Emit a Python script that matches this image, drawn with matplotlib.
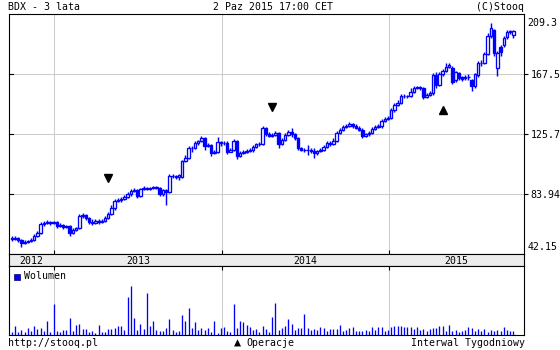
import matplotlib
matplotlib.use('Agg')
import matplotlib.pyplot as plt
import matplotlib.dates as mdates
from matplotlib.patches import Rectangle
import numpy as np
import pandas as pd

plt.rcParams['font.family'] = ['DejaVu Sans Mono', 'DejaVu Sans']
plt.rcParams['font.size'] = 7.1

# ---------------- data ----------------
start_week = '2012-10-01'   # weekly candles (Interwal Tygodniowy)

open_ = [53.3, 52.6, 53.3, 51.9, 49.8, 50.5, 51.2, 51.9, 54.7, 56.8,
         63.0, 63.7, 64.4, 63.7, 64.4, 61.7, 62.3, 61.0, 61.7, 56.8,
         58.9, 60.3, 68.6, 69.3, 67.2, 64.4, 63.7, 65.1, 64.4, 65.1,
         67.2, 70.0, 74.2, 79.1, 79.8, 80.5, 81.9, 83.9, 86.0, 86.7,
         82.6, 87.4, 88.1, 87.4, 88.1, 88.8, 88.1, 83.9, 86.7, 85.3,
         96.5, 96.5, 95.8, 95.8, 106.9, 109.0, 116.0, 116.0, 119.5, 120.9,
         123.0, 117.4, 118.1, 112.5, 113.2, 120.2, 119.5, 119.5, 113.2, 114.6,
         120.9, 110.4, 112.5, 113.2, 113.9, 114.6, 116.7, 118.8, 118.8, 129.9,
         125.7, 124.3, 125.0, 126.4, 118.8, 121.6, 125.0, 127.1, 125.7, 123.0,
         116.0, 114.6, 114.6, 114.6, 113.9, 112.5, 113.9, 114.6, 116.7, 119.5,
         118.8, 120.9, 126.4, 128.5, 130.6, 131.3, 132.7, 131.3, 129.9, 128.5,
         124.3, 125.7, 126.4, 129.2, 130.6, 131.3, 134.8, 136.2, 136.9, 142.5,
         145.9, 147.3, 152.2, 152.2, 152.2, 155.0, 157.8, 158.5, 157.8, 151.5,
         152.9, 154.3, 166.8, 159.9, 167.5, 169.6, 172.4, 171.7, 163.3, 168.2,
         165.4, 164.7, 165.4, 163.3, 159.2, 166.8, 175.2, 175.2, 181.5, 194.0,
         198.2, 171.7, 186.3, 187.7, 193.3, 196.8, 194.7]

high = [54.7, 54.7, 54.0, 52.6, 51.9, 51.9, 53.3, 56.1, 58.2, 64.4,
        65.1, 65.8, 65.1, 65.1, 65.1, 63.7, 63.0, 62.3, 62.3, 60.3,
        61.0, 70.0, 70.7, 70.0, 67.9, 66.5, 66.5, 66.5, 66.5, 68.6,
        71.4, 76.3, 80.5, 81.2, 81.9, 83.2, 85.3, 87.4, 88.1, 87.4,
        88.1, 89.5, 88.8, 88.8, 89.5, 89.5, 88.8, 87.4, 87.4, 97.9,
        97.9, 97.2, 97.9, 107.6, 111.1, 117.4, 117.4, 120.9, 121.6, 124.3,
        123.6, 119.5, 118.8, 114.6, 123.6, 120.9, 120.9, 120.9, 116.0, 122.3,
        121.6, 113.9, 114.6, 115.3, 116.0, 118.1, 119.5, 120.2, 131.3, 130.6,
        127.1, 126.4, 127.8, 127.1, 123.0, 126.4, 128.5, 129.9, 126.4, 123.6,
        116.7, 116.0, 118.1, 116.0, 116.0, 114.6, 116.0, 118.1, 120.9, 120.9,
        123.0, 127.8, 129.9, 132.0, 132.7, 134.1, 133.4, 132.7, 131.3, 129.9,
        126.4, 127.8, 130.6, 132.0, 132.7, 136.2, 137.6, 138.3, 143.8, 147.3,
        149.4, 153.6, 153.6, 152.9, 157.8, 159.2, 159.2, 159.2, 158.5, 154.3,
        155.7, 168.2, 168.9, 168.9, 171.0, 175.2, 175.2, 173.1, 169.6, 168.9,
        166.1, 166.8, 167.5, 164.0, 168.2, 176.6, 177.3, 182.8, 196.1, 203.0,
        198.9, 183.5, 187.7, 194.0, 198.2, 198.2, 198.2]

low = [51.2, 51.9, 50.5, 47.0, 49.1, 49.8, 50.5, 51.2, 54.0, 56.1,
       61.7, 63.0, 62.3, 63.0, 60.3, 61.0, 59.6, 60.3, 54.7, 56.1,
       58.2, 59.6, 67.2, 65.8, 63.0, 62.3, 63.0, 63.0, 63.7, 64.4,
       66.5, 69.3, 72.8, 78.4, 78.4, 79.8, 81.2, 82.6, 85.3, 81.2,
       81.9, 86.7, 86.7, 86.7, 87.4, 87.4, 82.6, 82.6, 76.3, 84.6,
       95.1, 94.4, 93.7, 95.1, 106.2, 108.3, 113.2, 115.3, 118.1, 120.2,
       114.6, 116.7, 110.4, 111.8, 112.5, 117.4, 118.1, 111.8, 113.2, 113.9,
       108.3, 109.7, 111.8, 112.5, 113.2, 113.2, 116.0, 117.4, 118.1, 124.3,
       123.6, 123.6, 124.3, 116.0, 118.1, 120.9, 124.3, 123.6, 121.6, 114.6,
       113.9, 113.2, 111.1, 112.5, 109.0, 111.1, 113.2, 113.9, 116.0, 117.4,
       118.1, 120.2, 125.7, 127.8, 129.9, 130.6, 129.9, 129.2, 127.8, 122.9,
       123.6, 124.3, 125.7, 128.5, 129.9, 129.9, 134.1, 135.5, 136.2, 141.1,
       145.2, 146.6, 150.8, 150.8, 151.5, 154.3, 157.1, 156.4, 150.1, 150.8,
       152.2, 152.9, 157.8, 159.2, 166.1, 168.9, 171.7, 160.5, 161.9, 163.3,
       162.6, 163.3, 163.3, 155.7, 157.8, 165.4, 173.1, 174.5, 180.8, 192.6,
       180.1, 166.1, 180.1, 186.3, 191.9, 195.4, 192.6]

close = [52.6, 53.3, 51.9, 49.8, 50.5, 51.2, 51.9, 54.7, 56.8, 63.0,
         63.7, 64.4, 63.7, 64.4, 61.7, 62.3, 61.0, 61.7, 56.8, 58.9,
         60.3, 68.6, 69.3, 67.2, 64.4, 63.7, 65.1, 64.4, 65.1, 67.2,
         70.0, 74.2, 79.1, 79.8, 80.5, 81.9, 83.9, 86.0, 86.7, 82.6,
         87.4, 88.1, 87.4, 88.1, 88.8, 88.1, 83.9, 86.7, 85.3, 96.5,
         96.5, 95.8, 97.2, 106.9, 109.0, 116.0, 116.0, 119.5, 120.9, 123.0,
         117.4, 118.1, 112.5, 113.2, 120.2, 119.5, 119.5, 113.2, 114.6, 120.9,
         110.4, 112.5, 113.2, 113.9, 114.6, 116.7, 118.8, 118.8, 129.9, 125.7,
         124.3, 125.0, 126.4, 118.8, 121.6, 125.0, 127.1, 125.7, 123.0, 116.0,
         114.6, 114.6, 114.6, 113.9, 112.5, 113.9, 114.6, 116.7, 119.5, 118.8,
         120.9, 126.4, 128.5, 130.6, 131.3, 132.7, 131.3, 129.9, 128.5, 124.3,
         125.7, 126.4, 129.2, 130.6, 131.3, 134.8, 136.2, 136.9, 142.5, 145.9,
         147.3, 152.2, 152.2, 152.2, 155.0, 157.8, 158.5, 157.8, 151.5, 152.9,
         154.3, 166.8, 159.9, 167.5, 169.6, 172.4, 173.8, 161.9, 168.9, 164.7,
         164.0, 165.4, 165.4, 159.2, 167.5, 175.2, 175.2, 181.5, 194.0, 199.6,
         182.2, 182.2, 182.8, 192.6, 196.8, 197.5, 197.5]

volume = [10, 26, 9, 15, 9, 21, 12, 27, 19, 21,
          12, 42, 9, 93, 12, 10, 15, 15, 51, 12,
          30, 33, 17, 17, 9, 12, 6, 30, 9, 10,
          17, 17, 21, 26, 26, 14, 114, 147, 51, 15,
          33, 19, 126, 27, 42, 15, 12, 12, 21, 48,
          15, 9, 12, 60, 42, 81, 21, 39, 15, 21,
          15, 21, 9, 42, 6, 21, 24, 12, 8, 93,
          21, 42, 40, 30, 25, 15, 19, 9, 27, 17,
          10, 54, 96, 15, 21, 27, 48, 34, 15, 21,
          21, 64, 21, 15, 18, 15, 24, 21, 12, 17,
          17, 19, 30, 12, 16, 21, 24, 12, 12, 12,
          15, 12, 24, 14, 24, 24, 12, 15, 24, 28,
          26, 26, 24, 24, 24, 17, 25, 14, 17, 12,
          17, 21, 21, 26, 26, 13, 30, 12, 14, 10,
          12, 15, 24, 21, 11, 18, 12, 18, 10, 15,
          12, 14, 12, 24, 15, 12, 12]

# transaction markers ("Operacje")
op_week = [30, 81, 134]
op_value = [95.3, 144.3, 142.5]
op_marker = ['v', 'v', '^']

price_grid = [83.94, 125.7, 167.5]
price_edge = [209.3, 42.15]
year_starts = ['2013-01-01', '2014-01-01', '2015-01-01']
year_labels = ['2012', '2013', '2014', '2015']
x_range = ['2012-09-25', '2015-10-21']

# ---------------- figure ----------------
W, H = 560, 350
fig = plt.figure(figsize=(W / 100, H / 100), dpi=100)
fig.patch.set_facecolor('white')


def rect(l, t, r, b):
    return [l / W, 1 - b / H, (r - l) / W, (b - t) / H]


BLUE = '#0000ff'
GRID = '#cccccc'
LW = 0.75

o = np.array(open_)
c = np.array(close)
h = np.array(high)
lo = np.array(low)
dates = pd.date_range(start_week, periods=len(close), freq='7D')
dn = mdates.date2num(dates.to_pydatetime())
xl, xr = [mdates.date2num(pd.Timestamp(d).to_pydatetime()) for d in x_range]
ys = [mdates.date2num(pd.Timestamp(d).to_pydatetime()) for d in year_starts]

# price panel
ax = fig.add_axes(rect(9, 14, 524, 254))
ax.set_xlim(xl, xr)
ax.set_ylim(price_edge[1], price_edge[0])
for v in price_grid:
    ax.axhline(v, color=GRID, lw=LW, zorder=0)
for x in ys:
    ax.axvline(x, color=GRID, lw=LW, zorder=0)

ax.vlines(dn, lo, h, color=BLUE, lw=1.05, zorder=2)
up = c >= o
bot = np.minimum(o, c)
hgt = np.abs(c - o)
ax.bar(dn[up], hgt[up], width=5.3, bottom=bot[up], facecolor='white',
       edgecolor=BLUE, lw=0.95, zorder=3)
ax.bar(dn[~up], hgt[~up], width=5.3, bottom=bot[~up], facecolor=BLUE,
       edgecolor=BLUE, lw=0.95, zorder=3)

for w, v, m in zip(op_week, op_value, op_marker):
    ax.plot([dn[w]], [v], marker=m, color='black', ms=5.5, ls='none', zorder=4)

ax.set_xticks(ys)
ax.set_xticklabels([])
ax.tick_params(axis='x', direction='in', length=3, width=0.8, bottom=True, top=False)
ax.yaxis.tick_right()
ax.set_yticks(price_grid)
ax.set_yticklabels([f'{v:g}' for v in price_grid])
ax.tick_params(axis='y', direction='out', length=3, width=0.8, pad=1.5)
for v in price_grid:
    ax.plot([0, 4 / 515], [v, v], transform=ax.get_yaxis_transform(),
            color='black', lw=0.8, zorder=5, clip_on=False)
ax.annotate(f'{price_edge[0]:g}', xy=(1, price_edge[0]), xycoords=('axes fraction', 'data'),
            xytext=(2.4, -6.6), textcoords='offset points', ha='left', va='center')
ax.annotate(f'{price_edge[1]:g}', xy=(1, price_edge[1]), xycoords=('axes fraction', 'data'),
            xytext=(2.4, 4.7), textcoords='offset points', ha='left', va='center')
for s in ax.spines.values():
    s.set_linewidth(0.8)

# year strip
axs = fig.add_axes(rect(9, 254, 524, 266))
axs.set_facecolor('#ececec')
axs.set_xlim(xl, xr)
axs.set_ylim(0, 1)
axs.set_xticks([])
axs.set_yticks([])
bounds = [xl] + ys + [xr]
for i, lab in enumerate(year_labels):
    axs.text((bounds[i] + bounds[i + 1]) / 2, 0.45, lab, ha='center', va='center')
for s in axs.spines.values():
    s.set_linewidth(0.8)

# volume panel
axv = fig.add_axes(rect(9, 266, 524, 335))
axv.set_xlim(xl, xr)
axv.set_ylim(0, 207)
for x in ys:
    axv.axvline(x, color=GRID, lw=LW, zorder=0)
axv.vlines(dn, 0, volume, color=BLUE, lw=0.95, zorder=2)
axv.set_xticks(ys)
axv.set_xticklabels([])
axv.set_yticks([])
axv.tick_params(axis='x', direction='in', length=3, width=0.8, bottom=False, top=True)
for s in axv.spines.values():
    s.set_linewidth(0.8)

fig.patches.append(Rectangle((14 / W, 1 - 279.5 / H), 6 / W, 6 / H, transform=fig.transFigure,
                             facecolor=BLUE, edgecolor='#000066', lw=0.5))
fig.text(24.5 / W, 1 - 276 / H, 'Wolumen', ha='left', va='center')

# header / footer
fig.text(8 / W, 1 - 7 / H, 'BDX - 3 lata', ha='left', va='center')
fig.text(273 / W, 1 - 7 / H, '2 Paz 2015 17:00 CET', ha='center', va='center')
fig.text(524 / W, 1 - 7 / H, '(C)Stooq', ha='right', va='center')
fig.text(8 / W, 1 - 343 / H, 'http://stooq.pl', ha='left', va='center')
fig.text(234 / W, 1 - 343 / H, '\u25b2', ha='left', va='center', fontsize=8.5)
fig.text(246 / W, 1 - 343 / H, 'Operacje', ha='left', va='center')
fig.text(525 / W, 1 - 343 / H, 'Interwal Tygodniowy', ha='right', va='center')

fig.savefig('out.png', dpi=100)
